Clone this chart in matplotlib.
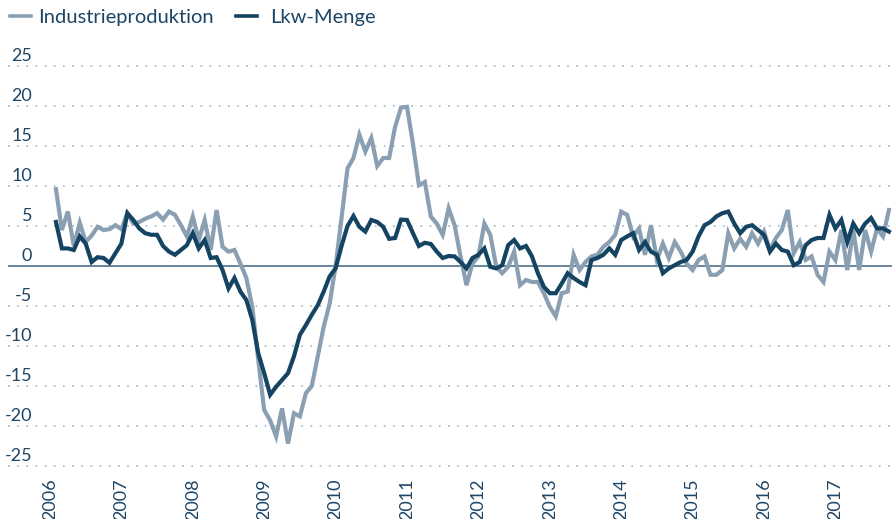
"""Industrieproduktion vs. Lkw-Menge, Veränderung ggü. Vorjahr in %."""

import numpy as np
import pandas as pd
import matplotlib
matplotlib.use("Agg")
import matplotlib.pyplot as plt
from matplotlib.lines import Line2D
from matplotlib.transforms import blended_transform_factory

plt.rcParams["font.family"] = ["Lato", "DejaVu Sans"]

# monthly values, Feb 2006 .. Oct 2017
months = pd.date_range("2006-02-01", periods=141, freq="MS")

industrie = [
    9.6, 4.5, 6.8, 2.5, 5.4, 3.0, 3.8, 4.9, 4.5, 4.6, 5.1,
    4.6, 6.6, 5.3, 5.5, 5.9, 6.2, 6.6, 5.8, 6.8, 6.4, 5.1, 3.7,
    6.2, 3.25, 5.75, 2.0, 7.0, 2.4, 1.8, 2.0, 0.3, -1.5, -5.1, -11.7,
    -18.0, -19.3, -21.3, -17.8, -22.2, -18.4, -18.8, -15.9, -15.0, -11.3, -7.6, -4.7,
    0.0, 6.0, 12.2, 13.5, 16.4, 14.3, 16.0, 12.5, 13.5, 13.5, 17.4, 19.8,
    19.9, 15.3, 10.1, 10.5, 6.2, 5.3, 3.9, 7.2, 5.1, 1.2, -2.4, 0.3,
    1.2, 5.3, 3.9, -0.1, -0.9, -0.1, 1.8, -2.4, -1.75, -2.0, -2.0, -3.4,
    -5.1, -6.3, -3.4, -3.2, 1.4, -0.5, 0.5, 1.2, 1.4, 2.4, 3.0, 3.9,
    6.8, 6.4, 3.7, 4.7, 1.4, 5.1, 0.75, 2.8, 1.0, 3.0, 1.8, 0.3,
    -0.5, 0.75, 1.2, -1.1, -1.1, -0.5, 4.1, 2.2, 3.4, 2.4, 4.1, 2.8,
    4.3, 2.0, 3.5, 4.5, 7.0, 1.6, 3.0, 0.75, 1.2, -1.1, -2.0, 1.8,
    0.75, 4.5, -0.5, 4.5, -0.5, 4.5, 1.8, 4.7, 3.7, 7.0,
]

lkw = [
    5.5, 2.2, 2.2, 2.0, 3.7, 2.8, 0.5, 1.1, 1.0, 0.4, 1.6,
    2.8, 6.6, 5.75, 4.7, 4.1, 3.9, 3.9, 2.5, 1.8, 1.4, 2.0, 2.6,
    4.1, 2.2, 3.25, 1.0, 1.1, -0.5, -2.8, -1.5, -3.2, -4.25, -6.75, -10.9,
    -13.4, -16.1, -15.1, -14.25, -13.4, -11.3, -8.6, -7.4, -6.1, -4.9, -3.2, -1.3,
    -0.3, 2.5, 5.0, 6.25, 4.9, 4.3, 5.75, 5.5, 4.9, 3.4, 3.5, 5.8,
    5.75, 4.1, 2.5, 2.9, 2.75, 1.8, 1.0, 1.25, 1.2, 0.5, -0.3, 1.0,
    1.4, 2.2, -0.1, -0.3, 0.1, 2.6, 3.25, 2.2, 2.5, 1.2, -0.9, -2.6,
    -3.4, -3.4, -2.2, -0.9, -1.5, -2.0, -2.4, 0.75, 1.0, 1.4, 2.2, 1.4,
    3.25, 3.7, 4.1, 2.0, 3.0, 1.8, 1.4, -0.9, -0.3, 0.1, 0.5, 0.75,
    1.8, 3.7, 5.1, 5.5, 6.2, 6.6, 6.8, 5.3, 4.1, 4.9, 5.1, 4.5,
    3.9, 1.8, 2.8, 2.0, 1.8, 0.1, 0.5, 2.6, 3.25, 3.5, 3.5, 6.4,
    4.7, 5.75, 3.0, 5.3, 4.1, 5.3, 6.0, 4.7, 4.7, 4.3,
]

years = list(range(2006, 2018))
y_ticks = [25, 20, 15, 10, 5, 0, -5, -10, -15, -20, -25]
series_names = ["Industrieproduktion", "Lkw-Menge"]

C_IND = "#8a9fb2"
C_LKW = "#154462"
C_TEXT = "#1d4566"
C_GRID = "#9fb7cc"
C_ZERO = "#3e6584"

t = months.year + (months.month - 1) / 12.0

W, H = 892, 519
fig = plt.figure(figsize=(W / 100, H / 100), dpi=100)
ax = fig.add_axes([8 / W, 1 - 474 / H, 884 / W, 424 / H])

ax.plot(t, industrie, color=C_IND, lw=3.0, solid_joinstyle="miter", zorder=3)
ax.plot(t, lkw, color=C_LKW, lw=3.0, solid_joinstyle="miter", zorder=4)

ax.set_xlim(2006 - 42 / 71.4, 2006 + 842 / 71.4)
ax.set_ylim(-26, 27)

for v in y_ticks:
    if v == 0:
        ax.axhline(0, color=C_ZERO, lw=1.1, zorder=2)
    else:
        ax.axhline(v, color=C_GRID, lw=1.2, ls=(0, (1, 4.5)), zorder=1)

trans = blended_transform_factory(ax.transAxes, ax.transData)
for v in y_ticks:
    ax.annotate(str(v), xy=(24 / 884, v), xycoords=trans,
                xytext=(0, 3.5), textcoords="offset points",
                ha="right", va="baseline", fontsize=13, color=C_TEXT)

ax.set_xticks(years)
ax.set_xticklabels([str(y) for y in years], rotation=90, fontsize=13,
                   color=C_TEXT, va="top", ha="center")
ax.tick_params(axis="x", length=0, pad=3)
ax.set_yticks([])
for s in ax.spines.values():
    s.set_visible(False)

# legend drawn by hand, in figure pixels
ly = 1 - 16 / H
for (x0, x1, xt), color, name in zip([(10, 31, 38), (236, 257, 270)],
                                     [C_IND, C_LKW], series_names):
    fig.add_artist(Line2D([x0 / W, x1 / W], [ly, ly], color=color, lw=2.6,
                          transform=fig.transFigure))
    fig.text(xt / W, ly, name, fontsize=14.5, color=C_TEXT,
             ha="left", va="center_baseline")

fig.savefig("out.png", dpi=100, facecolor="white")
